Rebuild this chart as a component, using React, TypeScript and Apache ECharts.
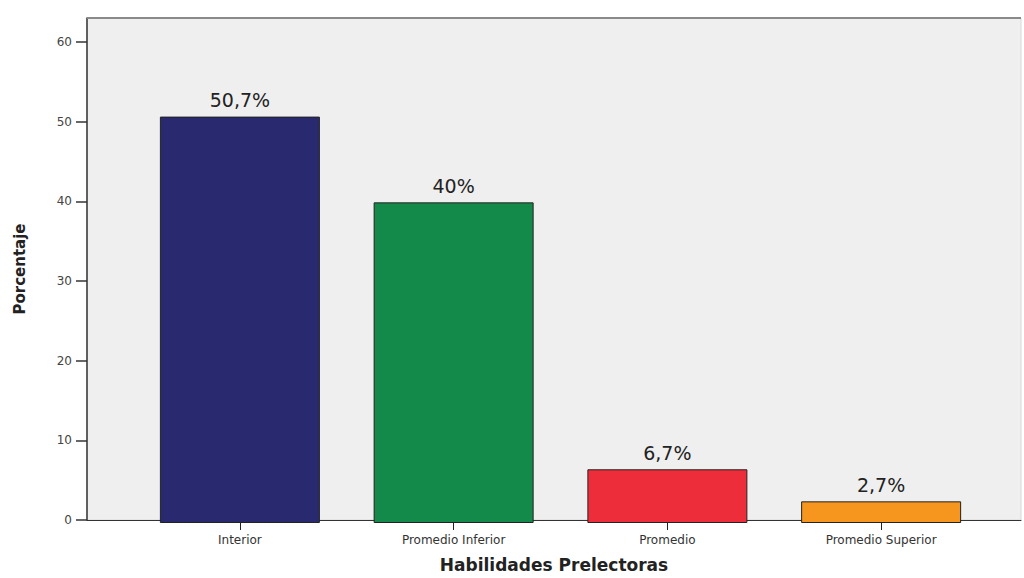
import React, { useEffect, useRef } from "react";
import * as echarts from "echarts";

const categories = ["Interior", "Promedio Inferior", "Promedio", "Promedio Superior"];
const values = [50.7, 40, 6.7, 2.7];
const valueLabels = ["50,7%", "40%", "6,7%", "2,7%"];
const barColors = ["#28296e", "#13894a", "#ee2d3a", "#f7961e"];
const yTicks = [0, 10, 20, 30, 40, 50, 60];

export default function App() {
  const ref = useRef<HTMLDivElement>(null);
  useEffect(() => {
    if (!ref.current) return;
    const chart = echarts.init(ref.current, null, { renderer: "svg" });
    const font = "'DejaVu Sans', Verdana, sans-serif";
    chart.setOption({
      animation: false,
      backgroundColor: "#ffffff",
      textStyle: { fontFamily: font },
      grid: [
        { left: 133, right: 36, top: 18, bottom: 55, show: false },
        {
          left: 87,
          right: 3,
          top: 18,
          bottom: 55,
          show: true,
          backgroundColor: "#efefef",
          borderColor: "#d8d8d8",
          borderWidth: 1,
        },
      ],
      graphic: [
        {
          type: "line",
          shape: { x1: 87, y1: 18, x2: 1021, y2: 18 },
          style: { stroke: "#8a8a8a", lineWidth: 2 },
          z: 10,
        },
      ],
      xAxis: [
        {
          type: "category",
          gridIndex: 0,
          data: categories,
          axisLine: { show: false },
          axisTick: { show: true, alignWithLabel: true, length: 7, lineStyle: { color: "#222", width: 1 } },
          axisLabel: { color: "#333", fontSize: 12, margin: 11, fontFamily: font },
          splitLine: { show: false },
        },
        {
          type: "value",
          gridIndex: 1,
          min: 0,
          max: 1,
          axisLine: { show: true, lineStyle: { color: "#333", width: 1 } },
          axisTick: { show: false },
          axisLabel: { show: false },
          splitLine: { show: false },
          name: "Habilidades Prelectoras",
          nameLocation: "middle",
          nameGap: 36,
          nameTextStyle: { fontSize: 17, fontWeight: "bold", color: "#222", fontFamily: font },
        },
      ],
      yAxis: [
        {
          type: "value",
          gridIndex: 0,
          min: 0,
          max: 63,
          show: false,
          splitLine: { show: false },
        },
        {
          type: "value",
          gridIndex: 1,
          min: 0,
          max: 63,
          interval: 10,
          axisLine: { show: true, lineStyle: { color: "#333", width: 1.5 } },
          axisTick: { show: true, length: 11, customValues: yTicks, lineStyle: { color: "#333", width: 1.5 } },
          axisLabel: { color: "#444", fontSize: 12, margin: 15, customValues: yTicks, fontFamily: font },
          splitLine: { show: false },
          name: "Porcentaje",
          nameLocation: "middle",
          nameGap: 60,
          nameTextStyle: { fontSize: 15, fontWeight: "bold", color: "#222", fontFamily: font },
        },
      ],
      series: [
        {
          type: "bar",
          xAxisIndex: 0,
          yAxisIndex: 0,
          barWidth: 160,
          data: values.map((v, i) => ({
            value: v,
            itemStyle: { color: barColors[i], borderColor: "#222", borderWidth: 1 },
          })),
          label: {
            show: true,
            position: "top",
            distance: 7,
            fontSize: 19,
            color: "#222",
            fontFamily: font,
            formatter: (p: any) => valueLabels[p.dataIndex],
          },
        },
      ],
    });
    return () => chart.dispose();
  }, []);
  return (
    <div
      ref={ref}
      style={{ position: "fixed", left: 0, top: 0, width: 1024, height: 578 }}
    />
  );
}
